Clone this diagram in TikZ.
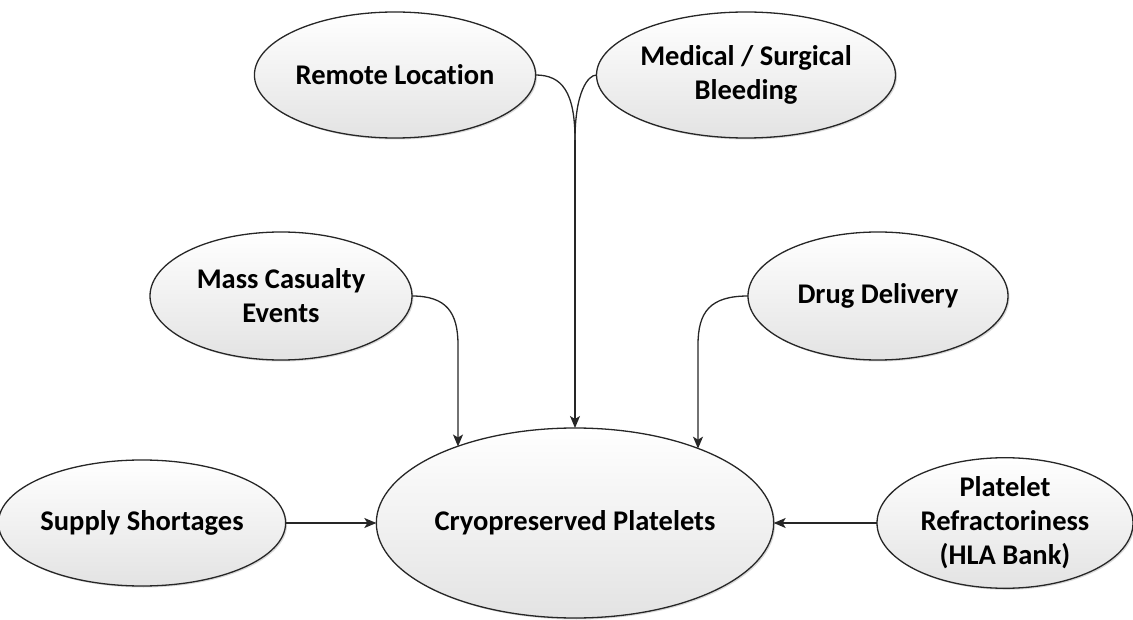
\documentclass[tikz,border=0pt]{standalone}
\usepackage{fontspec}
\setmainfont{Carlito}[Ligatures=NoCommon]
\usetikzlibrary{shapes.geometric,arrows.meta,shadows}
\tikzset{
  bubble/.style={ellipse, draw=black!85, line width=1.3pt, inner sep=0pt, outer sep=0pt,
    top color=white, bottom color=black!11, align=center,
    font=\fontsize{28.5}{34}\selectfont\bfseries,
    drop shadow={shadow xshift=1.5pt, shadow yshift=-1.5pt, opacity=0.25, fill=black!60}},
  link/.style={draw=black!85, line width=1.3pt},
  arr/.style={link, -{Stealth[length=12pt,width=10pt,inset=3pt]}}
}
\begin{document}
\begin{tikzpicture}[x=1pt,y=-1pt]
\useasboundingbox (0,0) rectangle (1133,620);
\node[bubble, minimum width=392pt, minimum height=190pt] (cryo) at (575,523) {Cryopreserved Platelets};
\node[bubble, minimum width=260pt, minimum height=126pt] (rem) at (395,75) {Remote Location};
\node[bubble, minimum width=262pt, minimum height=126pt] (med) at (746,75) {Medical / Surgical\\Bleeding};
\node[bubble, minimum width=262pt, minimum height=128pt] (mass) at (281,296) {Mass Casualty\\Events};
\node[bubble, minimum width=260pt, minimum height=128pt] (drug) at (878,296) {Drug Delivery};
\node[bubble, minimum width=262pt, minimum height=126pt] (sup) at (142,523) {Supply Shortages};
\node[bubble, minimum width=256pt, minimum height=126pt] (plat) at (1005,523) {Platelet\\Refractoriness\\(HLA Bank)};

\coordinate (join) at (575,140);
\coordinate (mj) at (458,345);
\coordinate (dj) at (698,345);

\draw[link] (rem.east) .. controls (562,75) and (575,92) .. (join);
\draw[link] (med.west) .. controls (588,75) and (575,92) .. (join);
\draw[arr] (join) -- (cryo.north);
\draw[arr] (mass.east) .. controls (446,296) and (458,312) .. (mj) -- (mj |- cryo.147);
\draw[arr] (drug.west) .. controls (710,296) and (698,312) .. (dj) -- (dj |- cryo.31);
\draw[arr] (sup.east) -- (cryo.west);
\draw[arr] (plat.west) -- (cryo.east);
\end{tikzpicture}
\end{document}
